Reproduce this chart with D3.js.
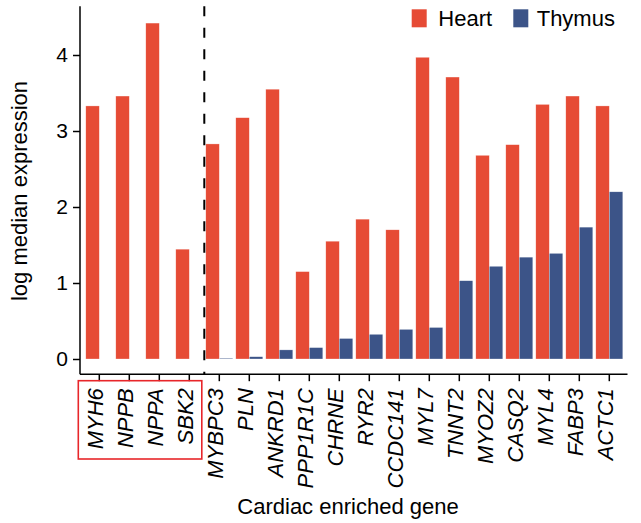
<!DOCTYPE html>
<html>
<head>
<meta charset="utf-8">
<script src="https://cdn.jsdelivr.net/npm/d3@7"></script>
<style>
  html, body { margin: 0; padding: 0; background: #fff; }
  svg { display: block; font-family: "Liberation Sans", Arial, Helvetica, sans-serif; }
</style>
</head>
<body>
<svg id="chart" width="641" height="523"></svg>
<script>
const genes = ["MYH6","NPPB","NPPA","SBK2","MYBPC3","PLN","ANKRD1","PPP1R1C","CHRNE","RYR2","CCDC141","MYL7","TNNT2","MYOZ2","CASQ2","MYL4","FABP3","ACTC1"];
const heart  = [3.33, 3.46, 4.42, 1.445, 2.83, 3.175, 3.55, 1.15, 1.55, 1.84, 1.70, 3.97, 3.71, 2.68, 2.82, 3.35, 3.46, 3.33];
const thymus = [0, 0, 0, 0, 0.01, 0.03, 0.12, 0.15, 0.27, 0.325, 0.39, 0.415, 1.03, 1.22, 1.34, 1.39, 1.735, 2.20];
const tissues = ["Heart", "Thymus"];
const colors = ["#E64B35", "#3C5488"];
const yTicks = [0, 1, 2, 3, 4];
const boxedGenes = ["MYH6","NPPB","NPPA","SBK2"];

const svg = d3.select("#chart");

const x = d3.scaleBand().domain(genes).range([84.3, 624.3]).padding(0);
const xs = d3.scaleBand().domain(tissues).range([0, x.bandwidth()]).paddingInner(0).paddingOuter(0.111);
const y = d3.scaleLinear().domain([0, 4]).range([359, 55]);
const color = d3.scaleOrdinal().domain(tissues).range(colors);

const axisLeft = 80;
const axisRight = 627.5;
const yBottom = y(-0.2);
const yTop = y(4.64);

const rows = genes.map((g, i) => ({ gene: g, values: [
  { tissue: "Heart", v: heart[i] },
  { tissue: "Thymus", v: thymus[i] }
]}));

// bars
const gBars = svg.append("g");
gBars.selectAll("g").data(rows).join("g")
  .attr("transform", d => `translate(${x(d.gene)},0)`)
  .selectAll("rect").data(d => d.values).join("rect")
  .attr("x", d => xs(d.tissue))
  .attr("width", xs.bandwidth())
  .attr("y", d => y(d.v))
  .attr("height", d => y(0) - y(d.v))
  .attr("fill", d => color(d.tissue))
  .attr("stroke", "#fff")
  .attr("stroke-width", 0.5)
  .attr("stroke-opacity", 0.6);

// y axis
const yAxis = d3.axisLeft(y).tickValues(yTicks).tickSize(7).tickPadding(5).tickFormat(d3.format("d"));
const gy = svg.append("g").attr("transform", `translate(${axisLeft},0)`).call(yAxis);
gy.select(".domain").remove();
gy.selectAll(".tick line").attr("stroke", "#000").attr("stroke-width", 1.5);
gy.selectAll(".tick text").attr("font-size", 21).attr("fill", "#000")
  .attr("font-family", "Liberation Sans, Arial, sans-serif");
svg.append("line").attr("x1", axisLeft).attr("x2", axisLeft).attr("y1", yTop).attr("y2", yBottom)
  .attr("stroke", "#000").attr("stroke-width", 1.5);

// x axis
const xAxis = d3.axisBottom(x).tickSize(7).tickPadding(0);
const gx = svg.append("g").attr("transform", `translate(0,${yBottom})`).call(xAxis);
gx.select(".domain").remove();
gx.selectAll(".tick line").attr("stroke", "#000").attr("stroke-width", 1.5);
gx.selectAll(".tick text")
  .attr("font-size", 22).attr("fill", "#000").attr("font-style", "italic")
  .attr("font-family", "Liberation Sans, Arial, sans-serif")
  .attr("text-anchor", "end")
  .attr("transform", "translate(-4,14) rotate(-90)")
  .attr("x", 0).attr("y", 0).attr("dy", "0.35em");
svg.append("line").attr("x1", axisLeft).attr("x2", axisRight).attr("y1", yBottom).attr("y2", yBottom)
  .attr("stroke", "#000").attr("stroke-width", 1.5);

// dashed separator between SBK2 and MYBPC3
const sepX = x("MYBPC3");
svg.append("line").attr("x1", sepX).attr("x2", sepX).attr("y1", yTop).attr("y2", yBottom)
  .attr("stroke", "#000").attr("stroke-width", 2).attr("stroke-dasharray", "10,11.5");

// red box around first four labels
const bx0 = x(boxedGenes[0]) - 6;
const bx1 = x(boxedGenes[boxedGenes.length - 1]) + x.bandwidth() - 2.5;
svg.append("rect").attr("x", bx0).attr("y", 380.7).attr("width", bx1 - bx0).attr("height", 78.3)
  .attr("fill", "none").attr("stroke", "#E8262A").attr("stroke-width", 1.6);

// axis titles
svg.append("text").attr("transform", "translate(27,191) rotate(-90)")
  .attr("text-anchor", "middle").attr("font-size", 22).attr("fill", "#000")
  .text("log median expression");
svg.append("text").attr("x", 348).attr("y", 514)
  .attr("text-anchor", "middle").attr("font-size", 22).attr("fill", "#000")
  .text("Cardiac enriched gene");

// legend
const legendPos = [{ x: 411.7, tx: 438.3 }, { x: 513.3, tx: 536.7 }];
const lg = svg.append("g");
tissues.forEach((t, i) => {
  lg.append("rect").attr("x", legendPos[i].x).attr("y", 9.3).attr("width", 15).attr("height", 18)
    .attr("fill", color(t));
  lg.append("text").attr("x", legendPos[i].tx).attr("y", 25.8).attr("font-size", 22).attr("fill", "#000").text(t);
});
</script>
</body>
</html>
